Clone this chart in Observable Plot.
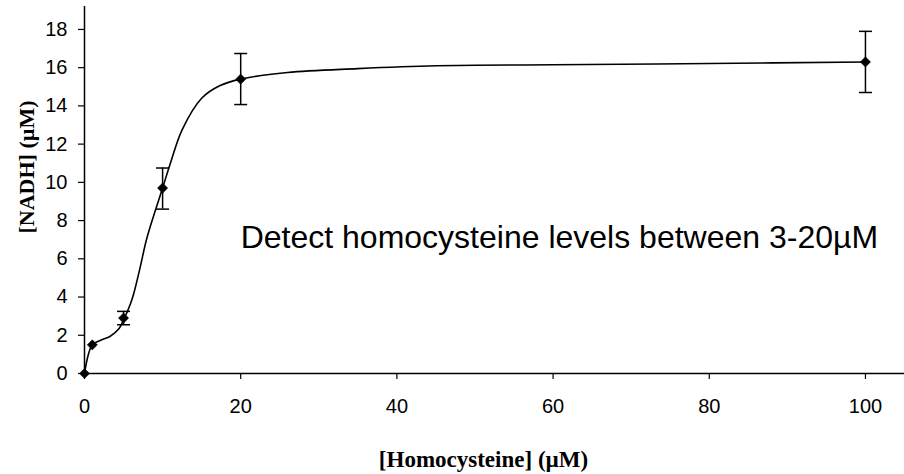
<!DOCTYPE html>
<html>
<head>
<meta charset="utf-8">
<script src="https://cdn.jsdelivr.net/npm/d3@7"></script>
<script src="https://cdn.jsdelivr.net/npm/@observablehq/plot@0.6"></script>
<style>
  html, body { margin: 0; padding: 0; background: #ffffff; }
  #chart { width: 904px; height: 474px; overflow: hidden; }
</style>
</head>
<body>
<div id="chart"></div>
<script>
// Measured points
const doseX = [0, 1, 5, 10, 20, 100];
const nadhY = [0, 1.5, 2.9, 9.7, 15.4, 16.3];
const errLo = [null, null, 2.55, 8.6, 14.07, 14.7];
const errHi = [null, null, 3.25, 10.75, 16.74, 17.9];

// Smoothed curve
const fitX = [0, 1, 2, 3.3, 4.4, 5, 5.9, 6.3, 7.1, 8.0, 10, 11, 12.5, 15, 17.3, 20, 26, 35, 45, 60, 80, 100];
const fitY = [0, 1.5, 1.73, 1.95, 2.34, 2.8, 3.66, 4.17, 5.5, 7.1, 9.7, 11.0, 12.75, 14.4, 15.05, 15.4, 15.75, 15.95, 16.1, 16.15, 16.22, 16.3];

const xTicks = [0, 20, 40, 60, 80, 100];
const yTicks = [0, 2, 4, 6, 8, 10, 12, 14, 16, 18];

const annotation = "Detect homocysteine levels between 3-20µM";
const xTitle = "[Homocysteine] (µM)";
const yTitle = "[NADH] (µM)";

const points = doseX.map((x, i) => ({x, y: nadhY[i], lo: errLo[i], hi: errHi[i]}));
const errs = points.filter(d => d.lo != null);
const fit = fitX.map((x, i) => ({x, y: fitY[i]}));

const capSymbol = {
  draw(context, size) {
    const w = Math.sqrt(size / Math.PI);
    context.moveTo(-w, 0);
    context.lineTo(w, 0);
  }
};

const chart = Plot.plot({
  width: 904,
  height: 474,
  marginLeft: 84,
  marginRight: 0,
  marginTop: 6,
  marginBottom: 101,
  x: {domain: [0, 105]},
  y: {domain: [0, 19.2]},
  style: {fontFamily: "Arial, 'Liberation Sans', sans-serif", fontSize: "20px", color: "black", background: "white"},
  marks: [
    Plot.axisY({ticks: yTicks, tickSize: 6, tickPadding: 11, label: null, fontSize: 20, strokeWidth: 1.2}),
    Plot.axisX({ticks: xTicks, tickSize: 6, tickPadding: 19, label: null, fontSize: 20, strokeWidth: 1.2}),
    Plot.ruleX([0], {stroke: "black", strokeWidth: 1.5}),
    Plot.ruleY([0], {stroke: "black", strokeWidth: 1.5}),
    Plot.line(fit, {x: "x", y: "y", curve: "catmull-rom", stroke: "black", strokeWidth: 1.6}),
    Plot.ruleX(errs, {x: "x", y1: "lo", y2: "hi", stroke: "black", strokeWidth: 1.5}),
    Plot.dot(errs, {x: "x", y: "hi", symbol: capSymbol, r: 6.5, stroke: "black", strokeWidth: 1.5, fill: "none"}),
    Plot.dot(errs, {x: "x", y: "lo", symbol: capSymbol, r: 6.5, stroke: "black", strokeWidth: 1.5, fill: "none"}),
    Plot.dot(points, {x: "x", y: "y", symbol: "diamond2", r: 4.6, fill: "black", stroke: "black", strokeWidth: 0.5}),
    Plot.text([annotation], {x: 20, y: 7.11, text: d => d, textAnchor: "start", lineAnchor: "middle", fontSize: 32, fontFamily: "Arial, 'Liberation Sans', sans-serif", fill: "black"}),
    Plot.text([yTitle], {frameAnchor: "left", text: d => d, textAnchor: "middle", lineAnchor: "middle", rotate: -90, dx: -58, dy: -23, fontSize: 22, fontWeight: "bold", fontFamily: "'Times New Roman', 'Liberation Serif', serif", fill: "black"}),
    Plot.text([xTitle], {frameAnchor: "bottom", text: d => d, textAnchor: "middle", lineAnchor: "middle", dx: -11, dy: 86.6, fontSize: 23, fontWeight: "bold", fontFamily: "'Times New Roman', 'Liberation Serif', serif", fill: "black"})
  ]
});
document.getElementById("chart").appendChild(chart);
</script>
</body>
</html>
